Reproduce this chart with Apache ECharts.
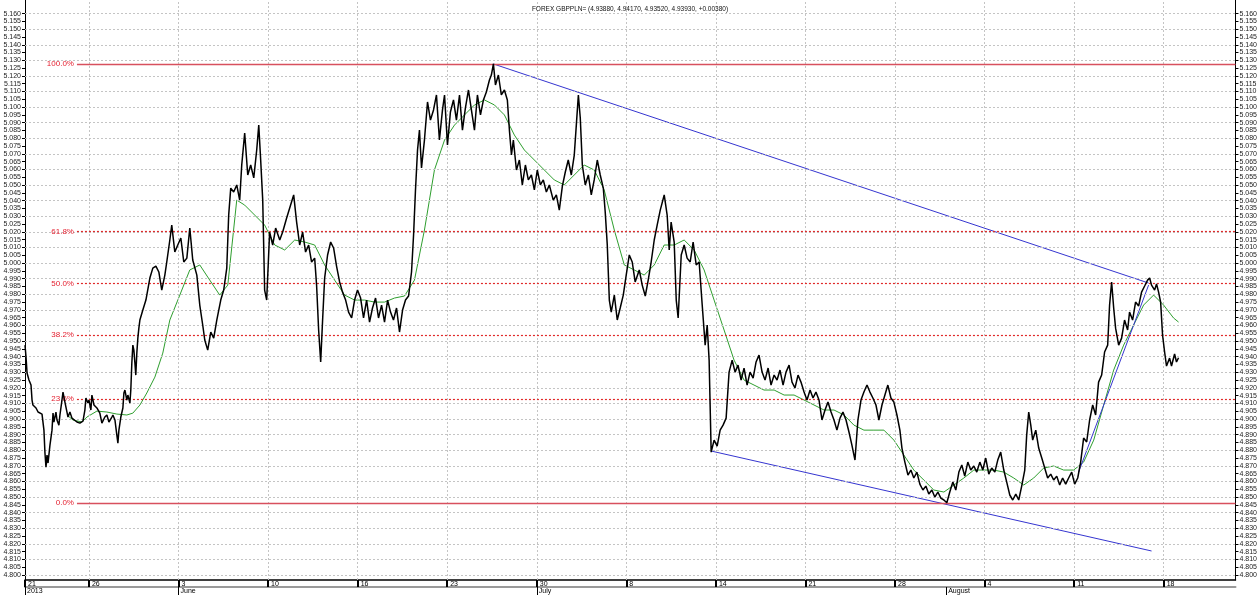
<!DOCTYPE html>
<html><head><meta charset="utf-8">
<script src="https://cdn.jsdelivr.net/npm/echarts@6/dist/echarts.min.js"></script>
<style>html,body{margin:0;padding:0;background:#fff}#c{width:1260px;height:595px}</style>
</head><body><div id="c"></div>
<script>
// x values: days since 2013-05-21 00:00 ; y values: GBP/PLN
const titleText = 'FOREX GBPPLN= (4.93880, 4.94170, 4.93520, 4.93930, +0.00380)';

const pricesA = [[0.00,4.9474],[0.08,4.9398],[0.16,4.9295],[0.31,4.9250],[0.47,4.9218],[0.55,4.9122],[0.62,4.9090],[0.86,4.9071],[1.02,4.9045],[1.33,4.9032],[1.41,4.9038],[1.48,4.8929],[1.56,4.8782],[1.64,4.8692],[1.72,4.8769],[1.80,4.8718],[1.95,4.8833],[2.11,4.8929],[2.19,4.9038],[2.26,4.8981],[2.42,4.9045],[2.50,4.8994],[2.65,4.8961],[2.73,4.9026],[2.89,4.9122],[2.97,4.9173],[3.12,4.9109],[3.28,4.9045],[3.36,4.9013],[3.51,4.9045],[3.67,4.9006],[3.75,4.8994],[4.06,4.8981],[4.29,4.8974],[4.53,4.8987],[4.68,4.9058],[4.76,4.9135],[4.92,4.9103],[5.00,4.9122],[5.15,4.9058],[5.23,4.9154],[5.39,4.9090],[5.62,4.9071],[5.85,4.9038],[6.01,4.8974],[6.09,4.8981],[6.24,4.9013],[6.40,4.9026],[6.56,4.8981],[6.79,4.9013],[6.87,4.9026],[7.03,4.8994],[7.18,4.8897],[7.26,4.8846],[7.34,4.8929],[7.49,4.9013],[7.65,4.9071],[7.73,4.9167],[7.81,4.9186],[7.96,4.9122],[8.04,4.9154],[8.20,4.9103],[8.27,4.9186],[8.35,4.9359],[8.43,4.9474],[8.51,4.9442],[8.59,4.9359],[8.66,4.9282],[8.74,4.9423],[8.82,4.9519],[8.90,4.9583],[8.98,4.9635]];
const pricesB = [[9.21,4.9699],[9.45,4.9763],[9.76,4.9904],[9.99,4.9968],[10.23,4.9981],[10.46,4.9943],[10.69,4.9827],[10.93,4.9923],[11.08,5.0007],[11.32,5.0148],[11.47,5.0244],[11.71,5.0071],[11.94,5.0116],[12.18,5.0161],[12.41,5.0007],[12.65,5.0032],[12.88,5.0225],[13.11,5.0020],[13.43,4.9923],[13.66,4.9731],[13.89,4.9603],[14.05,4.9507],[14.28,4.9442],[14.52,4.9558],[14.75,4.9519],[14.99,4.9635],[15.30,4.9763],[15.53,4.9827],[15.77,4.9968],[15.92,5.0308],[16.08,5.0481],[16.31,5.0456],[16.55,5.0501],[16.78,5.0404],[16.94,5.0629],[17.17,5.0834],[17.41,5.0565],[17.64,5.0629],[17.88,5.0546],[18.11,5.0725],[18.27,5.0885],[18.42,5.0661],[18.58,5.0404],[18.73,4.9827],[18.89,4.9763]];
const pricesC = [[19.12,5.0199],[19.36,5.0116],[19.59,5.0225],[19.91,5.0148],[20.14,5.0199],[20.45,5.0289],[20.76,5.0372],[21.00,5.0437],[21.23,5.0263],[21.47,5.0116],[21.70,5.0199],[21.93,5.0071],[22.17,5.0116],[22.40,5.0007],[22.64,5.0032],[22.79,4.9859],[22.95,4.9571],[23.11,4.9366],[23.26,4.9635],[23.42,4.9904],[23.65,5.0052],[23.89,5.0135],[24.12,5.0097],[24.35,4.9981],[24.59,4.9879],[24.82,4.9814],[25.06,4.9763],[25.29,4.9686],[25.53,4.9648],[25.76,4.9763],[25.99,4.9827],[26.23,4.9776],[26.46,4.9648],[26.70,4.9763],[26.93,4.9622],[27.16,4.9712],[27.40,4.9776],[27.63,4.9648],[27.87,4.9731],[28.10,4.9622],[28.34,4.9763],[28.57,4.9686],[28.80,4.9635],[29.04,4.9712],[29.27,4.9558],[29.51,4.9699],[29.74,4.9763],[29.98,4.9789],[30.21,4.9943],[30.37,5.0180],[30.52,5.0469],[30.68,5.0725],[30.83,5.0853]];
const pricesD = [[30.99,5.0610],[31.22,5.0789],[31.46,5.1033],[31.69,5.0917],[31.93,5.0982],[32.16,5.1078],[32.39,5.0789],[32.63,5.0982],[32.79,5.1078],[33.02,5.0757],[33.25,5.0969],[33.49,5.1046],[33.72,5.0917],[33.96,5.1078],[34.19,5.0853],[34.42,5.0994],[34.66,5.1110],[34.89,5.0982],[35.13,5.0853],[35.36,5.1078],[35.60,5.0950],[35.83,5.1046],[36.06,5.1097],[36.30,5.1174],[36.45,5.1206],[36.61,5.1277],[36.77,5.1142],[37.00,5.1206],[37.23,5.1078],[37.47,5.1110],[37.70,5.1046],[37.86,5.0853],[38.02,5.0693],[38.17,5.0789],[38.41,5.0597],[38.64,5.0661],[38.87,5.0501],[39.11,5.0629],[39.34,5.0533],[39.58,5.0565],[39.81,5.0469],[40.04,5.0597],[40.28,5.0501],[40.51,5.0533],[40.75,5.0456],[40.98,5.0501],[41.29,5.0404],[41.53,5.0437],[41.76,5.0340],[42.00,5.0494],[42.23,5.0584],[42.46,5.0661],[42.70,5.0565],[42.93,5.0693],[43.09,5.0885],[43.25,5.1078],[43.40,5.0930],[43.56,5.0629],[43.79,5.0501],[44.03,5.0565],[44.26,5.0437],[44.49,5.0533],[44.73,5.0661],[44.96,5.0565],[45.20,5.0481],[45.35,5.0327],[45.51,5.0116],[45.67,4.9763]];
const pricesE = [[45.82,4.9686],[46.06,4.9795],[46.29,4.9635],[46.52,4.9712],[46.76,4.9795],[46.99,4.9923],[47.23,5.0052],[47.46,5.0007],[47.69,4.9879],[48.01,4.9956],[48.24,4.9859],[48.48,4.9789],[48.71,4.9891],[48.94,5.0007],[49.18,5.0148],[49.41,5.0244],[49.65,5.0340],[49.96,5.0437],[50.19,5.0308],[50.35,5.0084],[50.50,5.0263],[50.74,5.0135],[50.90,4.9763],[51.05,4.9648],[51.29,5.0052],[51.52,5.0116],[51.75,5.0032],[51.99,5.0007],[52.22,5.0135],[52.46,4.9988],[52.69,5.0007],[52.93,4.9731],[53.16,4.9474],[53.32,4.9603],[53.47,4.9378],[53.63,4.8788],[53.86,4.8865],[54.10,4.8827],[54.33,4.8929],[54.56,4.8961],[54.80,4.9006],[55.03,4.9301]];
const pricesF = [[55.27,4.9378],[55.50,4.9301],[55.73,4.9346],[55.97,4.9250],[56.20,4.9327],[56.44,4.9218],[56.67,4.9301],[56.91,4.9263],[57.14,4.9366],[57.37,4.9410],[57.61,4.9301],[57.84,4.9250],[58.08,4.9327],[58.31,4.9218],[58.55,4.9282],[58.78,4.9250],[59.01,4.9314],[59.25,4.9218],[59.48,4.9301],[59.72,4.9346],[59.95,4.9237],[60.18,4.9199],[60.42,4.9282],[60.65,4.9237],[60.89,4.9173],[61.12,4.9122],[61.36,4.9186],[61.59,4.9135],[61.82,4.9173],[62.06,4.9122],[62.29,4.8994],[62.53,4.9058],[62.76,4.9109],[63.00,4.9045],[63.23,4.8994],[63.46,4.8929],[63.70,4.9006],[63.93,4.9045],[64.17,4.8994],[64.40,4.8917],[64.63,4.8833],[64.87,4.8737],[65.10,4.8994],[65.34,4.9122],[65.57,4.9173],[65.81,4.9218],[66.04,4.9173],[66.27,4.9135],[66.51,4.9090],[66.74,4.8994],[66.98,4.9090],[67.21,4.9154],[67.44,4.9218],[67.68,4.9135],[67.91,4.9109],[68.15,4.9026],[68.38,4.8929]];
const pricesG = [[68.54,4.8814],[68.77,4.8724],[69.01,4.8641],[69.24,4.8673],[69.47,4.8622],[69.71,4.8660],[69.94,4.8583],[70.18,4.8545],[70.41,4.8570],[70.64,4.8519],[70.88,4.8545],[71.11,4.8500],[71.35,4.8532],[71.58,4.8493],[71.82,4.8481],[72.05,4.8463],[72.28,4.8532],[72.52,4.8596],[72.75,4.8545],[72.99,4.8660],[73.22,4.8705],[73.45,4.8634],[73.69,4.8724],[73.92,4.8673],[74.16,4.8699],[74.39,4.8660],[74.63,4.8724],[74.86,4.8673],[75.09,4.8750],[75.33,4.8647],[75.56,4.8686],[75.80,4.8660],[76.03,4.8737],[76.26,4.8788],[76.50,4.8673],[76.73,4.8596],[76.97,4.8513],[77.20,4.8481],[77.44,4.8519],[77.67,4.8481],[77.90,4.8570],[78.14,4.8673],[78.29,4.8897],[78.45,4.9045],[78.61,4.8961],[78.76,4.8865],[79.00,4.8929],[79.23,4.8814],[79.47,4.8750],[79.70,4.8686],[79.93,4.8622],[80.17,4.8647],[80.40,4.8609],[80.64,4.8634],[80.87,4.8577],[81.10,4.8622],[81.34,4.8583],[81.57,4.8622],[81.81,4.8660],[82.04,4.8583],[82.28,4.8622],[82.51,4.8724],[82.74,4.8878],[82.98,4.8853],[83.21,4.8994],[83.45,4.9090],[83.68,4.9026]];
const pricesH = [[83.91,4.9237],[84.15,4.9282],[84.38,4.9430],[84.62,4.9474],[84.77,4.9731],[84.93,4.9879],[85.09,4.9712],[85.24,4.9583],[85.48,4.9474],[85.71,4.9519],[85.94,4.9635],[86.18,4.9571],[86.33,4.9686],[86.57,4.9635],[86.80,4.9750],[87.04,4.9725],[87.27,4.9814],[87.51,4.9853],[87.74,4.9891],[87.90,4.9904],[88.05,4.9859],[88.29,4.9827],[88.44,4.9866],[88.60,4.9814],[88.76,4.9750],[88.91,4.9539],[89.07,4.9430],[89.22,4.9340],[89.46,4.9391],[89.61,4.9340],[89.85,4.9417],[90.00,4.9366],[90.16,4.9393]];

const movingAverage = [[3.28,4.9026],[3.75,4.8994],[4.45,4.8981],[4.84,4.9013],[5.62,4.9051],[6.40,4.9045],[7.18,4.9032],[7.96,4.9026],[8.43,4.9038],[8.98,4.9090],[9.52,4.9167],[10.15,4.9269],[10.77,4.9423],[11.32,4.9635],[12.10,4.9795],[12.88,4.9956],[13.66,4.9988],[14.44,4.9891],[15.22,4.9795],[15.85,4.9859],[16.55,5.0404],[17.17,5.0372],[17.95,5.0308],[18.73,5.0244],[19.52,5.0116],[20.30,5.0084],[21.08,5.0148],[21.86,5.0135],[22.64,5.0116],[23.42,4.9988],[24.20,4.9891],[24.98,4.9795],[25.76,4.9763],[26.54,4.9763],[27.32,4.9750],[28.10,4.9750],[28.88,4.9776],[29.66,4.9789],[30.44,4.9891],[31.22,5.0212],[32.00,5.0597],[32.79,5.0789],[33.57,5.0885],[34.35,5.0950],[35.13,5.1014],[35.91,5.1046],[36.69,5.1014],[37.47,5.0950],[38.25,5.0821],[39.03,5.0725],[39.81,5.0661],[40.59,5.0597],[41.37,5.0533],[42.15,5.0501],[42.93,5.0565],[43.71,5.0629],[44.49,5.0597],[45.27,5.0469],[46.06,5.0212],[46.84,4.9988],[47.62,4.9956],[48.40,4.9923],[49.18,4.9988],[49.96,5.0116],[50.74,5.0116],[51.52,5.0148],[52.30,5.0084],[53.08,4.9956],[53.86,4.9763],[54.64,4.9571],[55.42,4.9378],[56.20,4.9250],[56.98,4.9218],[57.76,4.9186],[58.55,4.9186],[59.33,4.9154],[60.11,4.9154],[60.89,4.9122],[61.67,4.9090],[62.45,4.9058],[63.23,4.9058],[64.01,4.9026],[64.79,4.8961],[65.57,4.8929],[66.35,4.8929],[67.13,4.8929],[67.91,4.8865],[68.69,4.8769],[69.47,4.8673],[70.25,4.8609],[71.03,4.8545],[71.82,4.8532],[72.60,4.8577],[73.38,4.8622],[74.16,4.8673],[74.94,4.8673],[75.72,4.8673],[76.50,4.8660],[77.28,4.8622],[78.06,4.8577],[78.84,4.8622],[79.62,4.8686],[80.40,4.8699],[81.18,4.8673],[81.96,4.8673],[82.74,4.8724],[83.53,4.8865],[84.31,4.9090],[85.09,4.9314],[85.87,4.9474],[86.65,4.9603],[87.43,4.9731],[88.21,4.9795],[88.99,4.9731],[89.77,4.9648],[90.16,4.9622]];

const trendUpper = [[36.61,5.1277],[87.82,4.9872]];
const trendLower = [[53.63,4.8795],[88.05,4.8154]];
const trendShort = [[82.35,4.8660],[87.82,4.9859]];

const fibHigh = 5.1277, fibLow = 4.8463, fibStartDay = 4.06;
const fibRatios = [1, 0.618, 0.5, 0.382, 0.236, 0];
const fibLabels = ['100.0%', '61.8%', '50.0%', '38.2%', '23.6%', '0.0%'];

const weekTickDays = [0, 5, 12, 19, 26, 33, 40, 47, 54, 61, 68, 75, 82, 89];
const weekTickLabels = ['21', '26', '3', '10', '16', '23', '30', '8', '14', '21', '28', '4', '11', '18'];
const monthTickDays = [0, 12, 40, 72];
const monthTickLabels = ['2013', 'June', 'July', 'August'];

const yTickMin = 4.800, yTickMax = 5.160, yTickStep = 0.005;
const yMin = 4.7968, yMax = 5.1687;
const xMin = 0, xMax = 94.61;

const yTickValues = [];
for (let i = 0; i <= Math.round((yTickMax - yTickMin) / yTickStep); i++) yTickValues.push(+(yTickMin + i * yTickStep).toFixed(3));

const priceData = [].concat(pricesA, pricesB, pricesC, pricesD, pricesE, pricesF, pricesG, pricesH);
const font = 'Liberation Sans, Arial, sans-serif';
const lookup = (vals, labels) => v => { const i = vals.findIndex(t => Math.abs(t - v) < 1e-6); return i >= 0 ? labels[i] : ''; };

const gridColor = '#c4c4c4';
const gridMarks = [].concat(
  yTickValues.map(v => ({ yAxis: v })),
  weekTickDays.slice(1).map(d => ({ xAxis: d }))
);

const fibMarks = fibRatios.map((r, i) => {
  const level = fibLow + (fibHigh - fibLow) * r;
  const solid = (r === 1 || r === 0);
  return [
    { coord: [fibStartDay, level], name: fibLabels[i],
      lineStyle: { color: solid ? '#d8505e' : '#e02828', width: solid ? 1.4 : 1.2, type: solid ? 'solid' : [2, 2] } },
    { coord: [xMax, level] }
  ];
});

const yAxisBase = (pos) => ({
  type: 'value', min: yMin, max: yMax, position: pos, scale: true,
  axisLine: { show: true, onZero: false, lineStyle: { color: '#000', width: 1 } },
  axisTick: { show: true, customValues: yTickValues, length: 3, lineStyle: { color: '#000' } },
  axisLabel: { show: true, customValues: yTickValues, formatter: v => v.toFixed(3), fontSize: 7, color: '#222', margin: 4, fontFamily: font },
  splitLine: { show: false }
});

const chart = echarts.init(document.getElementById('c'));
chart.setOption({
  animation: false,
  backgroundColor: '#fff',
  title: { text: titleText, left: 'center', top: 1, textStyle: { fontSize: 6.5, fontWeight: 'normal', color: '#111', fontFamily: font } },
  grid: { left: 25, right: 23, top: 0, bottom: 15 },
  xAxis: [
    { type: 'value', min: xMin, max: xMax, position: 'bottom',
      axisLine: { show: true, onZero: false, lineStyle: { color: '#000', width: 1.5 } },
      axisTick: { show: true, customValues: weekTickDays, length: 7, lineStyle: { color: '#000', width: 2 } },
      axisLabel: { show: true, customValues: weekTickDays, formatter: lookup(weekTickDays, weekTickLabels), align: 'left', margin: 1, padding: [0, 0, 0, 3], fontSize: 7, color: '#000', fontFamily: font },
      splitLine: { show: false } },
    { type: 'value', min: xMin, max: xMax, position: 'bottom', offset: 7,
      axisLine: { show: true, onZero: false, lineStyle: { color: '#9a9a9a', width: 2 } },
      axisTick: { show: true, customValues: monthTickDays, length: 8, lineStyle: { color: '#000', width: 1 } },
      axisLabel: { show: true, customValues: monthTickDays, formatter: lookup(monthTickDays, monthTickLabels), align: 'left', margin: 1, padding: [0, 0, 0, 2], fontSize: 7, color: '#000', fontFamily: font },
      splitLine: { show: false } }
  ],
  yAxis: [yAxisBase('left'), yAxisBase('right')],
  series: [
    { name: 'grid', type: 'line', data: [[xMin, yMin]], symbol: 'none', lineStyle: { opacity: 0 }, silent: true, z: 1,
      markLine: { silent: true, symbol: ['none', 'none'], label: { show: false },
        lineStyle: { color: gridColor, width: 1, type: [2, 2] }, data: gridMarks } },
    { name: 'fib', type: 'line', data: [[xMin, yMin]], symbol: 'none', lineStyle: { opacity: 0 }, silent: true, z: 2,
      markLine: { silent: true, symbol: ['none', 'none'],
        label: { show: true, position: 'start', formatter: p => p.name, color: '#e42030', fontSize: 8, distance: 3, fontFamily: font },
        data: fibMarks } },
    { name: 'MA', type: 'line', data: movingAverage, symbol: 'none', lineStyle: { color: '#2e9e2e', width: 1 }, z: 3 },
    { name: 'trendUpper', type: 'line', data: trendUpper, symbol: 'none', lineStyle: { color: '#3535d0', width: 1 }, z: 4 },
    { name: 'trendLower', type: 'line', data: trendLower, symbol: 'none', lineStyle: { color: '#3535d0', width: 1 }, z: 4 },
    { name: 'trendShort', type: 'line', data: trendShort, symbol: 'none', lineStyle: { color: '#3535d0', width: 1 }, z: 4 },
    { name: 'price', type: 'line', data: priceData, symbol: 'none', lineStyle: { color: '#000', width: 1.5 }, z: 5 }
  ]
});
</script>
</body></html>
